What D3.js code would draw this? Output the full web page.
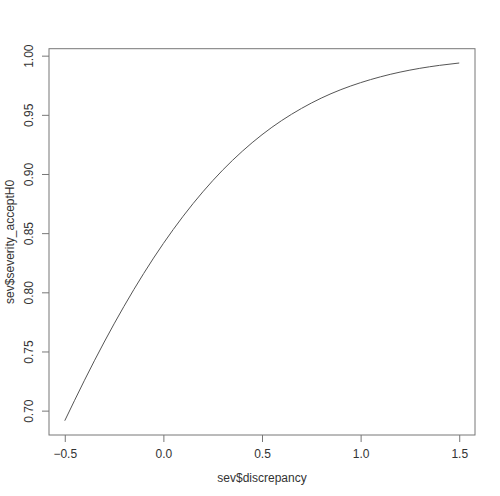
<!DOCTYPE html>
<html><head><meta charset="utf-8">
<script src="https://cdn.jsdelivr.net/npm/d3@7"></script>
<style>body{margin:0;background:#fff}text{font-family:"Liberation Sans",Arial,sans-serif;fill:#333}</style>
</head><body><svg id="c" width="500" height="496"></svg>
<script>
const discrepancy = [-0.5,-0.4,-0.3,-0.2,-0.1,0.0,0.1,0.2,0.3,0.4,0.5,0.6,0.7,0.8,0.9,1.0,1.1,1.2,1.3,1.4,1.5];
const severity = [0.6915,0.7257,0.7580,0.7881,0.8159,0.8413,0.8643,0.8849,0.9032,0.9192,0.9332,0.9452,0.9554,0.9641,0.9713,0.9772,0.9821,0.9861,0.9893,0.9918,0.9938];
const xTicks = [-0.5,0.0,0.5,1.0,1.5];
const yTicks = [0.70,0.75,0.80,0.85,0.90,0.95,1.00];
const xLabel = "sev$discrepancy";
const yLabel = "sev$severity_acceptH0";

const svg = d3.select("#c");
const L=49, R=475, T=48.7, B=435;
const xr = d3.extent(discrepancy), yr = d3.extent(severity);
const xp = (xr[1]-xr[0])*0.04, yp = (yr[1]-yr[0])*0.04;
const x = d3.scaleLinear().domain([xr[0]-xp, xr[1]+xp]).range([L,R]);
const y = d3.scaleLinear().domain([yr[0]-yp, yr[1]+yp]).range([B,T]);
const ax = "#777";

svg.append("rect").attr("x",L).attr("y",T).attr("width",R-L).attr("height",B-T)
  .attr("fill","none").attr("stroke",ax).attr("stroke-width",1);

const gx = svg.append("g").attr("transform",`translate(0,${B})`)
  .call(d3.axisBottom(x).tickValues(xTicks).tickFormat(d3.format(".1f")).tickSize(7).tickPadding(7));
const gy = svg.append("g").attr("transform",`translate(${L},0)`)
  .call(d3.axisLeft(y).tickValues(yTicks).tickFormat(d3.format(".2f")).tickSize(7).tickPadding(7));
[gx,gy].forEach(g=>{
  g.select(".domain").remove();
  g.selectAll(".tick line").attr("stroke",ax);
  g.selectAll(".tick text").attr("font-size",12).attr("fill","#333").style("font-family","Liberation Sans, Arial, sans-serif");
});
gy.selectAll(".tick text").attr("text-anchor","middle").attr("transform","translate(-16,0) rotate(-90)").attr("x",0).attr("dy","0");

svg.append("text").attr("x",(L+R)/2).attr("y",482).attr("text-anchor","middle").attr("font-size",12).text(xLabel);
svg.append("text").attr("transform",`translate(14,${(T+B)/2}) rotate(-90)`).attr("text-anchor","middle").attr("font-size",12).text(yLabel);

const line = d3.line().x((d,i)=>x(discrepancy[i])).y(d=>y(d)).curve(d3.curveNatural);
svg.append("path").datum(severity).attr("d",line).attr("fill","none").attr("stroke","#555").attr("stroke-width",1);
</script></body></html>
